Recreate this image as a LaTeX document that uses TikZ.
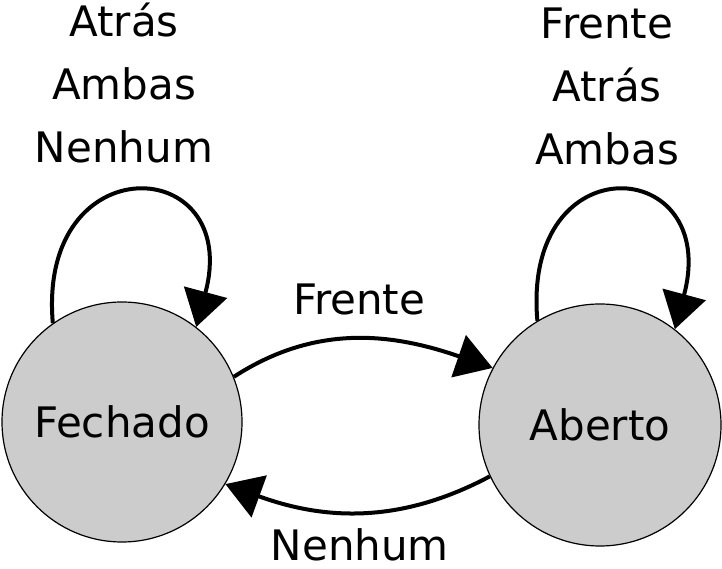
\documentclass[tikz,border=0pt]{standalone}
\usepackage{fontspec}
\setmainfont{DejaVu Sans}
\usetikzlibrary{arrows.meta}
\tikzset{
  state/.style={circle, draw=black, line width=1.2pt, fill=black!20, minimum size=240pt, inner sep=0pt, font=\fontsize{42}{63}\selectfont},
  trans/.style={line width=4pt, -{Triangle[length=36pt,width=44pt]}},
  rotulo/.style={inner sep=0pt, font=\fontsize{42}{63}\selectfont},
  lbl/.style={rotulo, align=center}
}
\begin{document}
\begin{tikzpicture}[x=1pt,y=1pt]
		%%%%% START %%%%%
		\useasboundingbox (0,0) rectangle (722,569);
		
		\node[state] (fechado) at (122,147) {Fechado};
		\node[state, minimum size=242pt] (aberto) at (600,144) {Aberto};
		
		\draw[trans] (fechado.22) to[out=33, in=161] node[rotulo, above=22pt] (frente) {Frente} (aberto.152);
		\draw[trans] (aberto.205) to[out=208, in=-20] node[rotulo, below=15pt] (nenhum) {Nenhum} (fechado.-31);
		
		\draw[trans] (fechado.125) to[out=95, in=75, distance=180pt] (fechado.52);
		\draw[trans] (aberto.121) to[out=95, in=75, distance=180pt] (aberto.52);
		
		\node[lbl, anchor=north] (lacofechado) at (124,566) {Atrás\\Ambas\\Nenhum};
		\node[lbl, anchor=north] (lacoaberto) at (607,561) {Frente\\Atrás\\Ambas};
		%%%%% END %%%%%
\end{tikzpicture}
\end{document}
